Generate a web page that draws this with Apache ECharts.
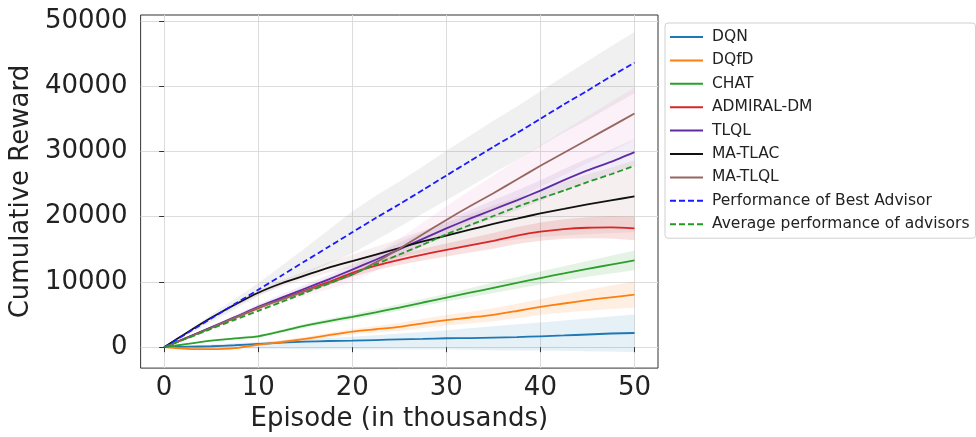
<!DOCTYPE html>
<html>
<head>
<meta charset="utf-8">
<script src="https://cdn.jsdelivr.net/npm/echarts@6/dist/echarts.min.js"></script>
<style>
  html, body { margin: 0; padding: 0; background: #fff; }
  #chart { width: 976px; height: 437px; }
</style>
</head>
<body>
<div id="chart"></div>
<script>
// Episodes (in thousands)
const episodes = [0, 2.5, 5, 7.5, 10, 12.5, 15, 17.5, 20, 22.5, 25, 27.5, 30, 32.5, 35, 37.5, 40, 42.5, 45, 47.5, 50];
const xTicks = [0, 10, 20, 30, 40, 50];
const yTicks = [0, 10000, 20000, 30000, 40000, 50000];

// Mean cumulative reward
const dqn      = [0, 80, 150, 300, 500, 700, 850, 950, 1000, 1100, 1200, 1280, 1370, 1400, 1480, 1550, 1670, 1800, 1950, 2100, 2180];
const dqfd     = [0, -250, -300, -150, 400, 800, 1270, 1850, 2400, 2750, 3100, 3650, 4150, 4550, 4960, 5550, 6170, 6700, 7200, 7650, 8050];
const chat     = [0, 500, 1000, 1350, 1670, 2450, 3300, 4000, 4650, 5350, 6070, 6850, 7600, 8350, 9100, 9850, 10600, 11300, 12000, 12650, 13300];
const admiral  = [0, 1500, 3000, 4500, 6000, 7400, 8700, 10000, 11400, 12500, 13400, 14200, 14900, 15600, 16300, 17100, 17700, 18100, 18300, 18350, 18200];
const tlql     = [0, 1500, 3050, 4600, 6170, 7600, 9000, 10400, 11900, 13400, 15000, 16600, 18200, 19700, 21100, 22500, 24000, 25600, 27100, 28400, 29900];
const maTlac   = [0, 2300, 4500, 6500, 8350, 9800, 11000, 12200, 13200, 14200, 15200, 16200, 17100, 18000, 18900, 19700, 20500, 21200, 21900, 22500, 23100];
const maTlql   = [0, 1450, 2950, 4500, 6050, 7300, 8600, 9800, 11100, 13000, 15100, 17300, 19500, 21600, 23600, 25700, 27800, 29800, 31800, 33800, 35800];
const bestAdv  = [0, 2200, 4400, 6600, 8800, 11000, 13200, 15400, 17600, 19800, 21900, 24100, 26300, 28500, 30700, 32800, 35000, 37200, 39300, 41500, 43600];
const avgAdv   = [0, 1400, 2800, 4200, 5570, 6950, 8350, 9750, 11200, 12700, 14200, 15700, 17300, 18700, 20100, 21500, 22800, 24000, 25300, 26500, 27800];

// Shaded spreads
const dqnLow        = [0, -100, -150, -200, -250, -250, -300, -300, -300, -300, -300, -350, -350, -400, -450, -500, -500, -550, -600, -650, -750];
const dqnHigh       = [0, 200, 400, 600, 800, 1000, 1200, 1400, 1600, 1850, 2100, 2350, 2600, 2900, 3200, 3500, 3800, 4100, 4400, 4700, 5000];
const dqfdSpread    = [0, 50, 100, 150, 200, 250, 300, 350, 400, 500, 600, 700, 800, 900, 1000, 1100, 1200, 1400, 1600, 1800, 2000];
const chatSpread    = [0, 50, 100, 150, 200, 250, 300, 350, 400, 450, 500, 550, 600, 700, 800, 900, 1000, 1100, 1200, 1350, 1500];
const admiralSpread = [0, 100, 200, 250, 300, 350, 400, 500, 600, 700, 800, 900, 1000, 1100, 1200, 1300, 1400, 1500, 1600, 1700, 1800];
const tlqlSpread    = [0, 100, 200, 300, 400, 500, 600, 700, 800, 900, 1000, 1100, 1200, 1300, 1400, 1500, 1600, 1700, 1800, 1900, 2000];
const maTlacSpread  = [0, 100, 200, 300, 400, 500, 600, 800, 1000, 1200, 1400, 1700, 2000, 2400, 2800, 3200, 3600, 4100, 4600, 5000, 5500];
const maTlqlSpread  = [0, 100, 200, 300, 400, 500, 700, 900, 1100, 1300, 1500, 1800, 2100, 2400, 2700, 3000, 3200, 3400, 3600, 3800, 4000];
const bestSpread    = [0, 300, 600, 800, 1000, 1500, 2000, 2600, 3200, 3400, 3500, 3600, 3800, 3900, 4000, 4100, 4200, 4300, 4500, 4600, 4700];

const FONT = 'DejaVu Sans';

function pairs(ys) { return episodes.map((x, i) => [x, ys[i]]); }

function bandSeries(lo, hi, color) {
  return {
    type: 'custom',
    silent: true,
    z: 1,
    data: [[episodes[0], lo[0]]],
    renderItem: function (params, api) {
      const pts = [];
      for (let i = 0; i < episodes.length; i++) pts.push(api.coord([episodes[i], hi[i]]));
      for (let i = episodes.length - 1; i >= 0; i--) pts.push(api.coord([episodes[i], lo[i]]));
      return { type: 'polygon', shape: { points: pts }, style: { fill: color } };
    }
  };
}
function symBand(mean, spread, color) {
  return bandSeries(mean.map((v, i) => v - spread[i]), mean.map((v, i) => v + spread[i]), color);
}

function lineSeries(name, ys, color, dashed) {
  return {
    name: name,
    type: 'line',
    data: pairs(ys),
    symbol: 'none',
    z: 3,
    smooth: 0.2,
    lineStyle: { color: color, width: 1.8, type: dashed ? [6, 3] : 'solid' },
    itemStyle: { color: color }
  };
}

const names = ['DQN', 'DQfD', 'CHAT', 'ADMIRAL-DM', 'TLQL', 'MA-TLAC', 'MA-TLQL', 'Performance of Best Advisor', 'Average performance of advisors'];

const chart = echarts.init(document.getElementById('chart'), null, { renderer: 'canvas' });
chart.setOption({
  animation: false,
  backgroundColor: '#fff',
  grid: { left: 140, right: 318, top: 15, bottom: 66, show: true, borderColor: '#333', borderWidth: 1, backgroundColor: 'transparent' },
  xAxis: {
    type: 'value', min: -2.5, max: 52.5,
    name: 'Episode (in thousands)', nameLocation: 'middle', nameGap: 35,
    nameTextStyle: { fontFamily: FONT, fontSize: 26, color: '#222' },
    axisLine: { show: false },
    axisTick: { show: true, length: 5, inside: false, customValues: xTicks, lineStyle: { color: '#333' } },
    axisLabel: { customValues: xTicks, margin: 7, fontFamily: FONT, fontSize: 26, color: '#222', formatter: v => String(v) },
    splitLine: { show: true, lineStyle: { color: '#dcdcdc', width: 1 } }
  },
  yAxis: {
    type: 'value', min: -3200, max: 50900,
    name: 'Cumulative Reward', nameLocation: 'middle', nameGap: 99, nameRotate: 90,
    nameTextStyle: { fontFamily: FONT, fontSize: 26, color: '#222' },
    axisLine: { show: false },
    axisTick: { show: true, length: 5, inside: false, customValues: yTicks, lineStyle: { color: '#333' } },
    axisLabel: { customValues: yTicks, margin: 13, fontFamily: FONT, fontSize: 26, color: '#222', formatter: v => String(v) },
    splitLine: { show: true, lineStyle: { color: '#dcdcdc', width: 1 } }
  },
  legend: {
    data: names,
    orient: 'vertical',
    left: 665, top: 23,
    padding: [6, 6, 6, 4],
    itemWidth: 33, itemHeight: 14, itemGap: 7.4,
    itemStyle: { opacity: 0 },
    borderColor: '#d0d0d0', borderWidth: 1, borderRadius: 3,
    textStyle: { fontFamily: FONT, fontSize: 15.5, color: '#222', padding: [0, 0, 0, 4] },
    selectedMode: false
  },
  series: [
    symBand(bestAdv, bestSpread, 'rgba(128,128,128,0.12)'),
    symBand(maTlql, maTlqlSpread, 'rgba(227,119,194,0.10)'),
    symBand(tlql, tlqlSpread, 'rgba(148,103,189,0.12)'),
    symBand(maTlac, maTlacSpread, 'rgba(140,86,75,0.09)'),
    symBand(admiral, admiralSpread, 'rgba(214,39,40,0.14)'),
    symBand(chat, chatSpread, 'rgba(44,160,44,0.12)'),
    symBand(dqfd, dqfdSpread, 'rgba(255,127,14,0.12)'),
    bandSeries(dqnLow, dqnHigh, 'rgba(31,119,180,0.11)'),
    lineSeries('DQN', dqn, '#1f77b4', false),
    lineSeries('DQfD', dqfd, '#ff7f0e', false),
    lineSeries('CHAT', chat, '#2ca02c', false),
    lineSeries('ADMIRAL-DM', admiral, '#d62728', false),
    lineSeries('TLQL', tlql, '#5e2ca5', false),
    lineSeries('MA-TLAC', maTlac, '#111111', false),
    lineSeries('MA-TLQL', maTlql, '#96675f', false),
    lineSeries('Performance of Best Advisor', bestAdv, '#1a1aff', true),
    lineSeries('Average performance of advisors', avgAdv, '#229922', true)
  ]
});
</script>
</body>
</html>
